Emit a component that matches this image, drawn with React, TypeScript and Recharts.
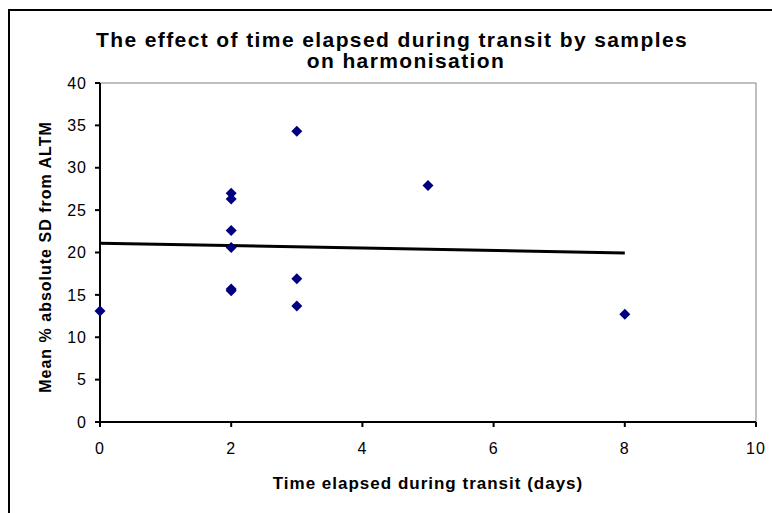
import React from 'react';
import { ScatterChart, Scatter, XAxis, YAxis, ReferenceLine, Label } from 'recharts';

// transit time (days) and mean % absolute SD from ALTM, one entry per sample
const days = [0, 2, 2, 2, 2, 2, 2, 3, 3, 3, 5, 8];
const meanSd = [13.1, 27.0, 26.3, 22.6, 20.6, 15.7, 15.5, 34.3, 16.9, 13.7, 27.9, 12.7];

// linear trend line end points
const trendDays = [0, 8];
const trendSd = [21.1, 19.95];

const xTicks = [0, 2, 4, 6, 8, 10];
const yTicks = [0, 5, 10, 15, 20, 25, 30, 35, 40];

const points = days.map((d, i) => ({ x: d, y: meanSd[i] }));
const trend = trendDays.map((d, i) => ({ x: d, y: trendSd[i] }));

const font = 'Arial, "Liberation Sans", sans-serif';

const Diamond = (props: any) => {
  const { cx, cy } = props;
  if (cx == null || cy == null) return <g />;
  const r = 5.5;
  return (
    <polygon
      points={`${cx},${cy - r} ${cx + r},${cy} ${cx},${cy + r} ${cx - r},${cy}`}
      fill="#000080"
    />
  );
};

// rotated y axis title, sits a little below the plot's middle like the original
const YTitle = (props: any) => {
  const vb = props.viewBox || {};
  const x = vb.x + 5;
  const y = vb.y + vb.height / 2 + 4.5;
  return (
    <text
      x={x}
      y={y}
      transform={`rotate(-90, ${x}, ${y})`}
      textAnchor="middle"
      dominantBaseline="central"
      fill="#000"
      fontSize={16}
      fontWeight="bold"
      fontFamily={font}
      letterSpacing={1}
    >
      Mean % absolute SD from ALTM
    </text>
  );
};

const titleStyle: React.CSSProperties = {
  position: 'absolute',
  textAlign: 'center',
  fontFamily: font,
  fontWeight: 'bold',
  fontSize: 21,
  lineHeight: '24px',
  letterSpacing: 1.4,
  whiteSpace: 'nowrap',
};

const tickStyle = { fill: '#000', fontSize: 16, fontFamily: font, letterSpacing: 1 };

const App: React.FC = () => {
  return (
    <div style={{ position: 'fixed', left: 0, top: 0, width: 772, height: 513, overflow: 'hidden', background: '#fff' }}>
      <div
        style={{
          position: 'absolute',
          left: 8,
          top: 9,
          width: 900,
          height: 700,
          border: '2px solid #000',
          pointerEvents: 'none',
        }}
      />
      <div style={{ ...titleStyle, left: 92, width: 600, top: 28 }}>
        The effect of time elapsed during transit by samples
      </div>
      <div style={{ ...titleStyle, left: 306, width: 200, top: 49 }}>on harmonisation</div>
      <ScatterChart
        width={772}
        height={513}
        margin={{ top: 83, right: 16, bottom: 51, left: 40 }}
        style={{ position: 'absolute', left: 0, top: 0 }}
      >
        <XAxis
          type="number"
          dataKey="x"
          domain={[0, 10]}
          ticks={xTicks}
          height={40}
          tickSize={5}
          tickMargin={16}
          axisLine={{ stroke: '#000', strokeWidth: 2 }}
          tickLine={{ stroke: '#000', strokeWidth: 2 }}
          tick={tickStyle}
        >
          <Label
            value="Time elapsed during transit (days)"
            position="bottom"
            offset={15}
            style={{ fill: '#000', fontSize: 17, fontWeight: 'bold', fontFamily: font, letterSpacing: 1 }}
          />
        </XAxis>
        <YAxis
          type="number"
          dataKey="y"
          domain={[0, 40]}
          ticks={yTicks}
          width={60}
          tickSize={5}
          tickMargin={8}
          axisLine={{ stroke: '#000', strokeWidth: 2 }}
          tickLine={{ stroke: '#000', strokeWidth: 2 }}
          tick={tickStyle}
        >
          <Label content={YTitle} />
        </YAxis>
        <ReferenceLine y={40} stroke="#808080" strokeWidth={1} />
        <ReferenceLine x={10} stroke="#808080" strokeWidth={1} />
        <Scatter
          data={trend}
          isAnimationActive={false}
          line={{ stroke: '#000', strokeWidth: 3 }}
          stroke="#000"
          shape={() => <g />}
          legendType="none"
        />
        <Scatter data={points} isAnimationActive={false} shape={Diamond} fill="#000080" />
      </ScatterChart>
    </div>
  );
};

export default App;
